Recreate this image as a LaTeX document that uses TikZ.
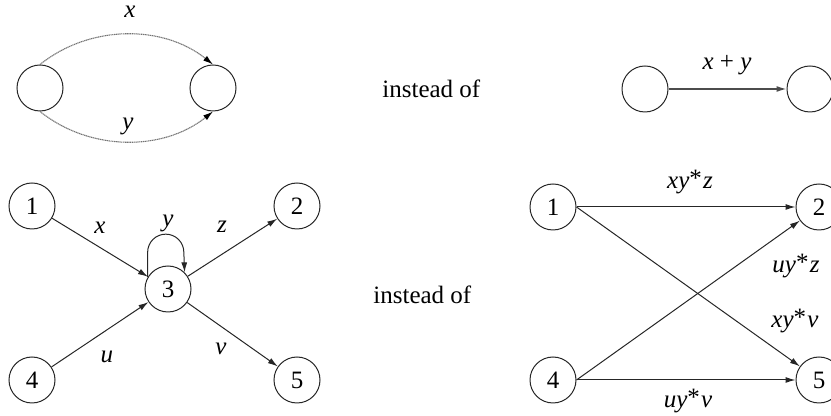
\documentclass[tikz,border=0pt]{standalone}
\usepackage{fontspec}
\setmainfont{Liberation Serif}
\usetikzlibrary{arrows.meta}
\newcommand{\kstar}{\upshape\raisebox{0.1em}{*}\kern0.05em\itshape}
\begin{document}
\begin{tikzpicture}[x=0.5pt,y=-0.5pt,
  vertex/.style={circle,draw=black!85,line width=0.5pt,minimum size=23pt,inner sep=0pt,
    font=\fontsize{12.5}{15}\selectfont},
  lbl/.style={font=\fontsize{12.5}{15}\selectfont\itshape,inner sep=0pt,anchor=base},
  txt/.style={font=\fontsize{12.5}{15}\selectfont,inner sep=0pt,anchor=base west},
  edge/.style={draw=black!85,line width=0.5pt,-{Latex[length=5pt,width=3pt]}},
  soft/.style={draw=black!55,line width=0.55pt,dash pattern=on 0.6pt off 0.3pt,
    -{Latex[length=5pt,width=3pt,color=black]}}
]
\useasboundingbox (0,0) rectangle (831,416);

% two parallel transitions
\node[vertex] (ta) at (40,88) {};
\node[vertex] (tb) at (213,88) {};
\draw[soft] (ta.north) .. controls +(50,-40) and +(-50,-40) .. (tb.north);
\draw[soft] (ta.south) .. controls +(50,40) and +(-50,40) .. (tb.south);
\node[lbl] (tx) at (130,18) {x};
\node[lbl] (ty) at (128,130) {y};

\node[txt] (io1) at (382,98) {instead of};

% merged transition
\node[vertex] (tc) at (645,89) {};
\node[vertex] (td) at (810,89) {};
\draw[edge,draw=black!70,line width=0.7pt] (tc) -- (td);
\node[lbl] (txy) at (727,70) {x\upshape{} + \itshape y};

% state 3 with a self-loop
\node[vertex] (a1) at (32,206) {1};
\node[vertex] (a2) at (297,206) {2};
\node[vertex] (a3) at (168,289) {3};
\node[vertex] (a4) at (32,380) {4};
\node[vertex] (a5) at (297,380) {5};
\draw[edge] (a1) -- (a3);
\draw[edge] (a3) -- (a2);
\draw[edge] (a4) -- (a3);
\draw[edge] (a3) -- (a5);
\draw[edge] (a3.150) -- ++(0,-25) arc[start angle=180,end angle=360,radius=18.09] -- (a3.45);
\node[lbl] (lx) at (100,234) {x};
\node[lbl] (ly) at (168,227) {y};
\node[lbl] (lz) at (222,233) {z};
\node[lbl] (lu) at (107,363) {u};
\node[lbl] (lv) at (221,355) {v};

\node[txt] (io2) at (373,304) {instead of};

% state 3 eliminated
\node[vertex] (b1) at (553,207) {1};
\node[vertex] (b2) at (819,207) {2};
\node[vertex] (b4) at (553,380) {4};
\node[vertex] (b5) at (819,380) {5};
\draw[edge] (b1) -- (b2);
\draw[edge] (b1.east) -- (b5);
\draw[edge] (b4.east) -- (b2);
\draw[edge] (b4) -- (b5);
\node[lbl] (rxz) at (690,189) {xy\kstar z};
\node[lbl] (ruz) at (796,273) {uy\kstar z};
\node[lbl] (rxv) at (795,328) {xy\kstar v};
\node[lbl] (ruv) at (688,408) {uy\kstar v};
\end{tikzpicture}
\end{document}
